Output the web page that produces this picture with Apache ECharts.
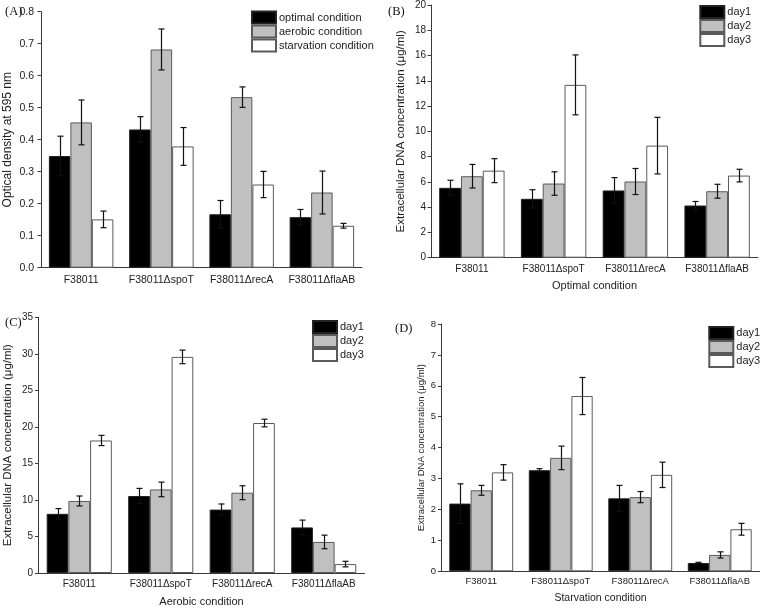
<!DOCTYPE html>
<html>
<head>
<meta charset="utf-8">
<script src="https://cdn.jsdelivr.net/npm/echarts@6/dist/echarts.min.js"></script>
<style>html,body{margin:0;padding:0;background:#fff;}#c{width:760px;height:608px;}</style>
</head>
<body>
<div id="c"></div>
<script>
// ---- data ----
const categories = ['F38011', 'F38011\u0394spoT', 'F38011\u0394recA', 'F38011\u0394flaAB'];
const conditionNames = ['optimal condition', 'aerobic condition', 'starvation condition'];
const dayNames = ['day1', 'day2', 'day3'];

// Panel A: optical density at 595 nm
const A_optimal = [0.349, 0.432, 0.167, 0.158];
const A_optimalErr = [0.062, 0.040, 0.043, 0.024];
const A_aerobic = [0.454, 0.682, 0.533, 0.235];
const A_aerobicErr = [0.070, 0.064, 0.032, 0.067];
const A_starvation = [0.151, 0.379, 0.260, 0.131];
const A_starvationErr = [0.026, 0.059, 0.041, 0.0075];

// Panel B: optimal condition, eDNA (ug/ml)
const B_day1 = [5.53, 4.66, 5.32, 4.13];
const B_day1Err = [0.60, 0.72, 1.02, 0.32];
const B_day2 = [6.45, 5.87, 6.03, 5.26];
const B_day2Err = [0.93, 0.93, 1.03, 0.55];
const B_day3 = [6.89, 13.68, 8.87, 6.50];
const B_day3Err = [0.95, 2.37, 2.24, 0.50];

// Panel C: aerobic condition
const C_day1 = [8.10, 10.54, 8.68, 6.24];
const C_day1Err = [0.72, 1.04, 0.77, 1.00];
const C_day2 = [9.86, 11.44, 10.99, 4.25];
const C_day2Err = [0.68, 1.00, 0.95, 0.93];
const C_day3 = [18.14, 29.58, 20.53, 1.22];
const C_day3Err = [0.70, 0.93, 0.52, 0.38];

// Panel D: starvation condition
const D_day1 = [2.19, 3.27, 2.36, 0.27];
const D_day1Err = [0.64, 0.05, 0.42, 0.02];
const D_day2 = [2.62, 3.67, 2.40, 0.53];
const D_day2Err = [0.16, 0.38, 0.18, 0.10];
const D_day3 = [3.20, 5.67, 3.12, 1.36];
const D_day3Err = [0.25, 0.60, 0.41, 0.19];

// ---- styles ----
const FONT = '"Liberation Sans", Arial, sans-serif';
const AXC = '#3a3a3a';
const fills = [
  {color: '#000000', borderColor: '#222222', borderWidth: 1},
  {color: '#c0c0c0', borderColor: '#5a5a5a', borderWidth: 1},
  {color: '#ffffff', borderColor: '#5a5a5a', borderWidth: 1}
];

const panels = [
  {letter: '(A)', lx: 0, ly: 0, grid: {left: 41, top: 11.7, width: 321, height: 256},
   names: conditionNames, vals: [A_optimal, A_aerobic, A_starvation], errs: [A_optimalErr, A_aerobicErr, A_starvationErr],
   max: 0.8, interval: 0.1, dec: 1, yName: 'Optical density at 595 nm', yNameSize: 12, yGap: 27, xName: '',
   bw: 21.5, tick: 10.5, lblMargin: 7, yLblMargin: 7, legend: {left: 251, top: 10.5}},
  {letter: '(B)', lx: 383, ly: 0, grid: {left: 431, top: 4.3, width: 327, height: 253.4},
   names: dayNames, vals: [B_day1, B_day2, B_day3], errs: [B_day1Err, B_day2Err, B_day3Err],
   max: 20, interval: 2, dec: 0, yName: 'Extracellular DNA concentration (\u03bcg/ml)', yNameSize: 11.5, yGap: 24,
   xName: 'Optimal condition', xNameSize: 11, xGap: 23, bw: 21.8, tick: 10, lblMargin: 7, yLblMargin: 5,
   legend: {left: 699.3, top: 5}},
  {letter: '(C)', lx: 0, ly: 311, grid: {left: 38.5, top: 317.3, width: 326, height: 258},
   names: dayNames, vals: [C_day1, C_day2, C_day3], errs: [C_day1Err, C_day2Err, C_day3Err],
   max: 35, interval: 5, dec: 0, yName: 'Extracellular DNA concentration (\u03bcg/ml)', yNameSize: 11.5, yGap: 24.5,
   xName: 'Aerobic condition', xNameSize: 11, xGap: 23, bw: 21.7, tick: 10, lblMargin: 6, yLblMargin: 5.5,
   legend: {left: 312, top: 320}},
  {letter: '(D)', lx: 390, ly: 317, grid: {left: 441.5, top: 324, width: 318, height: 247.3},
   names: dayNames, vals: [D_day1, D_day2, D_day3], errs: [D_day1Err, D_day2Err, D_day3Err],
   max: 8, interval: 1, dec: 0, yName: 'Extracellular DNA concentration (\u03bcg/ml)', yNameSize: 9.5, yGap: 15.5,
   xName: 'Starvation condition', xNameSize: 10.5, xGap: 21.5, bw: 21.3, tick: 9.5, lblMargin: 5, yLblMargin: 5.5,
   legend: {left: 708.3, top: 326}}
];

const option = {
  animation: false,
  backgroundColor: '#ffffff',
  title: [], grid: [], xAxis: [], yAxis: [], legend: [], series: []
};

function errRender(bw, k) {
  return function (params, api) {
    const i = api.value(0), v = api.value(1), e = api.value(2);
    const c = api.coord([i, v]);
    const x = Math.round(c[0] + (k - 1) * bw) + 0.5;
    const yt = api.coord([i, v + e])[1];
    const yb = api.coord([i, v - e])[1];
    const hw = 3;
    const st = {stroke: '#111', lineWidth: 1.2};
    return {type: 'group', children: [
      {type: 'line', shape: {x1: x, y1: yt, x2: x, y2: yb}, style: st},
      {type: 'line', shape: {x1: x - hw, y1: yt, x2: x + hw, y2: yt}, style: st},
      {type: 'line', shape: {x1: x - hw, y1: yb, x2: x + hw, y2: yb}, style: st}
    ]};
  };
}

panels.forEach((p, g) => {
  option.title.push({text: p.letter, left: p.lx, top: p.ly,
    textStyle: {fontFamily: '"Liberation Serif", "Times New Roman", serif', fontSize: 12.5, fontWeight: 'normal', color: '#111'}});
  option.grid.push(Object.assign({containLabel: false}, p.grid));
  option.xAxis.push({
    type: 'category', gridIndex: g, data: categories,
    name: p.xName, nameLocation: 'middle', nameGap: p.xGap || 20,
    nameTextStyle: {fontFamily: FONT, fontSize: p.xNameSize || 11, color: '#222'},
    axisLine: {lineStyle: {color: AXC, width: 1}},
    axisTick: {alignWithLabel: true, length: 3.5, lineStyle: {color: AXC}},
    axisLabel: {fontFamily: FONT, fontSize: p.tick, color: '#222', margin: p.lblMargin, interval: 0},
    splitLine: {show: false}
  });
  option.yAxis.push({
    type: 'value', gridIndex: g, min: 0, max: p.max, interval: p.interval,
    name: p.yName, nameLocation: 'middle', nameGap: p.yGap,
    nameTextStyle: {fontFamily: FONT, fontSize: p.yNameSize, color: '#222'},
    axisLine: {show: true, lineStyle: {color: AXC, width: 1}},
    axisTick: {show: true, length: 3.5, lineStyle: {color: AXC}},
    axisLabel: {fontFamily: FONT, fontSize: p.tick, color: '#222', margin: p.yLblMargin,
      formatter: v => v.toFixed(p.dec)},
    splitLine: {show: false}
  });
  option.legend.push({
    orient: 'vertical', left: p.legend.left, top: p.legend.top, padding: 0,
    itemWidth: 24, itemHeight: 12, itemGap: 0, icon: 'rect', selectedMode: false,
    data: p.names,
    textStyle: {fontFamily: FONT, fontSize: 11, color: '#222', padding: [0, 0, 0, -2]}
  });
  p.names.forEach((nm, k) => {
    option.series.push({
      type: 'bar', name: nm, xAxisIndex: g, yAxisIndex: g,
      data: p.vals[k], barWidth: p.bw, barGap: '0%',
      itemStyle: fills[k], z: 2
    });
  });
  p.names.forEach((nm, k) => {
    option.series.push({
      type: 'custom', name: 'err-' + g + '-' + k, xAxisIndex: g, yAxisIndex: g,
      renderItem: errRender(p.bw, k), z: 5, silent: true,
      encode: {x: 0, y: 1},
      data: categories.map((c, i) => [i, p.vals[k][i], p.errs[k][i]])
    });
  });
});

const chart = echarts.init(document.getElementById('c'), null, {renderer: 'canvas'});
chart.setOption(option);
</script>
</body>
</html>
